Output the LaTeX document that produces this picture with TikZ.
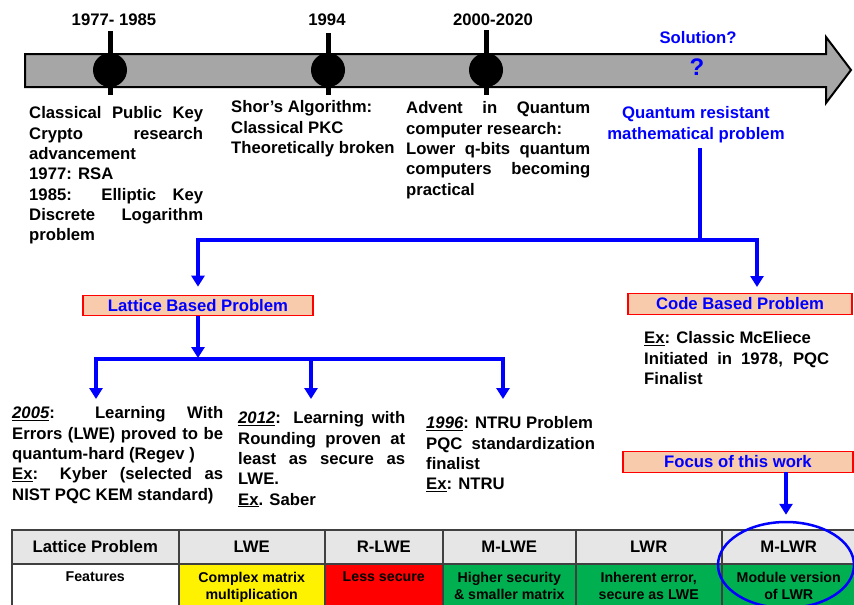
\documentclass[tikz,border=0pt]{standalone}
\usepackage{fontspec}
\setmainfont{Liberation Sans}
\usetikzlibrary{arrows.meta,calc,shapes.geometric}
\definecolor{bargray}{HTML}{A6A6A6}
\definecolor{peach}{HTML}{F8CBAD}
\definecolor{hdrgray}{HTML}{E7E6E6}
\definecolor{mygreen}{HTML}{00B050}
\definecolor{pblue}{HTML}{0000FF}
\newcommand\mainfs{\fontsize{16.7}{20.3}\selectfont\bfseries\hyphenpenalty=10000\exhyphenpenalty=10000\tolerance=10000}
\newcommand\cellfs{\fontsize{14.2}{17.5}\selectfont\bfseries}
\newcommand\ul[1]{\underline{#1}}
\begin{document}
\begin{tikzpicture}[x=1pt,y=-1pt,
  txt/.style={inner sep=0pt, font=\mainfs, anchor=north west, align=justify},
  ttl/.style={inner sep=0pt, font=\mainfs},
  pbox/.style={draw=red, fill=peach, line width=1.2pt, text=pblue, font=\mainfs, inner sep=0pt, minimum height=20.5pt},
  bline/.style={draw=pblue, line width=4pt, line join=miter},
  tip/.style={-{Triangle[width=13pt,length=11pt]}},
  tips/.style={{Triangle[width=13pt,length=11pt]}-{Triangle[width=13pt,length=11pt]}},
  mile/.style={circle, fill=black, minimum size=34pt, inner sep=0pt},
  stem/.style={line width=5pt},
  cellbox/.style={draw=black!75, line width=1.5pt, anchor=north west, inner sep=0pt},
  ctext/.style={font=\cellfs, align=center, anchor=north, inner sep=0pt}
]
\clip (0,0) rectangle (854,605);
\fill[white] (0,0) rectangle (854,605);

% ---------- timeline bar ----------
\draw[fill=bargray, line width=2pt, line join=miter]
  (25,54) -- (826,54) -- (826,37) -- (851,70) -- (826,103) -- (826,87) -- (25,87) -- cycle;

\draw[stem] (110,31) -- (110,95);
\draw[stem] (328,33) -- (328,95);
\draw[stem] (486,30) -- (486,95);
\node[mile] (m1) at (110,70) {};
\node[mile] (m2) at (328,70) {};
\node[mile] (m3) at (486,70) {};

\node[ttl] (y1) at (114,20) {1977- 1985};
\node[ttl] (y2) at (327,20) {1994};
\node[ttl] (y3) at (493,20) {2000-2020};
\node[ttl, text=pblue] (sol) at (698,38) {Solution?};
\node[inner sep=0pt, text=pblue, font=\fontsize{24}{24}\selectfont\bfseries] (qm) at (697,67) {?};

% ---------- timeline texts ----------
\node[txt, text width=174pt] (b1) at (29,106.5)
  {Classical Public Key\linebreak Crypto research\linebreak advancement\\
   1977: RSA\\
   1985: Elliptic Key\linebreak Discrete Logarithm\linebreak problem};
\node[txt, align=left] (b2) at (231,100.5)
  {Shor’s Algorithm:\\ Classical PKC\\ Theoretically broken};
\node[txt, text width=184pt] (b3) at (406,101.5)
  {Advent in Quantum\linebreak computer research:\\
   Lower q-bits quantum\linebreak computers becoming\linebreak practical};
\node[inner sep=0pt, font=\mainfs, text=pblue, align=center, anchor=north] (qrm) at (696,106.5)
  {Quantum resistant\\ mathematical problem};

% ---------- first split ----------
\node[pbox, minimum width=230pt] (lat) at (198,305.5) {Lattice Based Problem};
\node[pbox, minimum width=224pt] (code) at (740,304) {Code Based Problem};

\coordinate (q0) at (700,148);
\coordinate (q1) at (700,240);
\coordinate (sa) at (198,240);
\coordinate (sb) at (757,240);
\coordinate (latin) at ($(lat.north)+(0,-8)$);
\coordinate (codein) at (757,287);
\draw[bline] (q0) -- (q1);
\draw[bline, tips] (latin) -- (sa) -- (sb) -- (codein);

\node[txt, text width=185pt] (cb) at (644,331.5)
  {\ul{Ex}: Classic McEliece\\ Initiated in 1978, PQC\linebreak Finalist};

% ---------- lattice split ----------
\coordinate (lj) at (198,358);
\coordinate (la) at (96,359);
\coordinate (lb) at (311,359);
\coordinate (lc) at (503,359);
\coordinate (ta) at (96,399);
\coordinate (tb) at (311,399);
\coordinate (tc) at (503,399);
\draw[bline, tip] (lat.south) -- (lj);
\draw[bline, tips] (ta) -- (la) -- (lc) -- (tc);
\draw[bline, tip] (lb) -- (tb);

\node[txt, text width=211pt] (ba) at (12,406.5)
  {\ul{\itshape 2005}: Learning With\linebreak Errors (LWE) proved to be\linebreak
   quantum-hard (Regev )\\
   \ul{Ex}: Kyber (selected as\linebreak NIST PQC KEM standard)};
\node[txt, text width=167pt] (bb) at (238,411.5)
  {\ul{\itshape 2012}: Learning with\linebreak Rounding proven at\linebreak least as secure as\linebreak LWE.\\
   \ul{Ex}. Saber};
\node[txt, align=left] (bc) at (426,416.5)
  {\ul{\itshape 1996}: NTRU Problem\\ PQC\ \ standardization\\ finalist\\ \ul{Ex}: NTRU};

% ---------- focus ----------
\node[pbox, minimum width=230pt] (focus) at (738,462) {Focus of this work};

% ---------- table ----------
\node[cellbox, fill=hdrgray, minimum width=167pt, minimum height=34pt, font=\mainfs] (h1) at (11,529) {Lattice Problem};
\node[cellbox, fill=hdrgray, minimum width=146pt, minimum height=34pt, font=\mainfs] (h2) at (178,529) {LWE};
\node[cellbox, fill=hdrgray, minimum width=118pt, minimum height=34pt, font=\mainfs] (h3) at (324,529) {R-LWE};
\node[cellbox, fill=hdrgray, minimum width=133pt, minimum height=34pt, font=\mainfs] (h4) at (442,529) {M-LWE};
\node[cellbox, fill=hdrgray, minimum width=146pt, minimum height=34pt, font=\mainfs] (h5) at (575,529) {LWR};
\node[cellbox, fill=hdrgray, minimum width=134pt, minimum height=34pt, font=\mainfs] (h6) at (721,529) {M-LWR};

\node[cellbox, fill=white, minimum width=167pt, minimum height=50pt] (c1) at (11,563) {};
\node[cellbox, fill=yellow, minimum width=146pt, minimum height=50pt] (c2) at (178,563) {};
\node[cellbox, fill=red, minimum width=118pt, minimum height=50pt] (c3) at (324,563) {};
\node[cellbox, fill=mygreen, minimum width=133pt, minimum height=50pt] (c4) at (442,563) {};
\node[cellbox, fill=mygreen, minimum width=146pt, minimum height=50pt] (c5) at (575,563) {};
\node[cellbox, fill=mygreen, minimum width=134pt, minimum height=50pt] (c6) at (721,563) {};

\node[ctext] (f1) at ($(c1.north)+(0,9)$) {Features};
\node[ctext] (f2) at ($(c2.north)+(0,9)$) {Complex matrix\\ multiplication};
\node[ctext] (f3) at ($(c3.north)+(0,9)$) {Less secure};
\node[ctext] (f4) at ($(c4.north)+(0,9)$) {Higher security\\ \& smaller matrix};
\node[ctext] (f5) at ($(c5.north)+(0,9)$) {Inherent error,\\ secure as LWE};
\node[ctext] (f6) at ($(c6.north)+(0,9)$) {Module version\\ of LWR};

% ---------- ellipse and focus arrow ----------
\node[draw=pblue, line width=2.5pt, ellipse, minimum width=136pt, minimum height=86pt, inner sep=0pt] (ell) at (786,565) {};
\coordinate (fa) at (786,472);
\draw[bline, tip] (fa) -- ($(ell.north)+(0,-6)$);
\end{tikzpicture}
\end{document}
